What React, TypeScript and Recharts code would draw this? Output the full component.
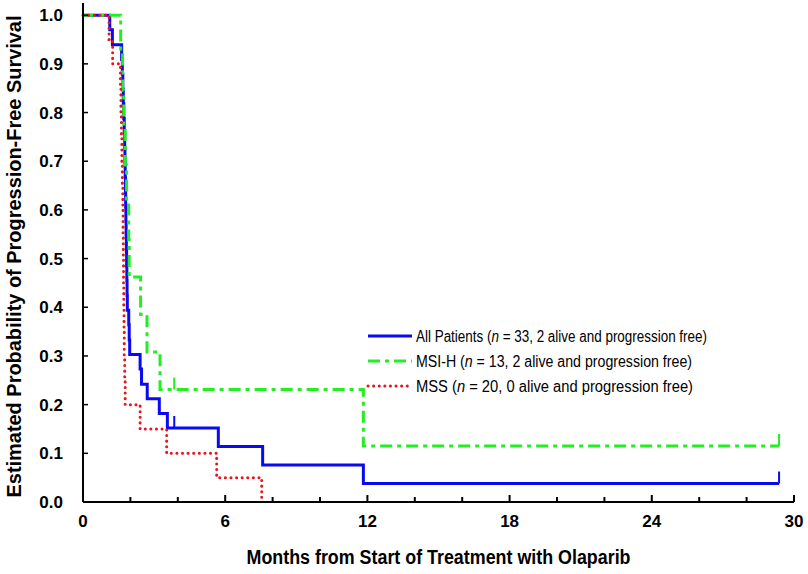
import { LineChart, Line, XAxis, YAxis, Legend } from "recharts"

// Kaplan-Meier steps (months, survival)
const allTimes = [0, 1.13, 1.24, 1.63, 1.66, 1.68, 1.7, 1.72, 1.74, 1.76, 1.77, 1.78, 1.79, 1.8, 1.81, 1.82, 1.83, 1.84, 1.85, 1.86, 1.87, 1.93, 1.95, 1.97, 2.41, 2.47, 2.71, 3.22, 3.56, 5.71, 7.58, 11.83]
const allSurv = [1, 0.97, 0.939, 0.909, 0.879, 0.848, 0.818, 0.788, 0.758, 0.727, 0.697, 0.667, 0.636, 0.606, 0.576, 0.545, 0.515, 0.485, 0.455, 0.424, 0.394, 0.364, 0.333, 0.303, 0.273, 0.242, 0.212, 0.182, 0.152, 0.114, 0.076, 0.038]
const allCensored = [3.85, 29.37]

const msiTimes = [0, 1.59, 1.67, 1.72, 1.78, 1.84, 1.93, 1.95, 2.43, 2.7, 3.25, 11.83]
const msiSurv = [1, 0.923, 0.846, 0.769, 0.692, 0.615, 0.538, 0.462, 0.385, 0.308, 0.231, 0.115]
const msiCensored = [3.85, 29.37]

const mssTimes = [0, 1.1, 1.25, 1.58, 1.6, 1.62, 1.64, 1.66, 1.68, 1.69, 1.7, 1.71, 1.72, 1.73, 1.74, 1.76, 1.78, 2.41, 3.53, 5.64, 7.54]
const mssSurv = [1, 0.95, 0.9, 0.85, 0.8, 0.75, 0.7, 0.65, 0.6, 0.55, 0.5, 0.45, 0.4, 0.35, 0.3, 0.25, 0.2, 0.15, 0.1, 0.05, 0]
const mssCensored: number[] = []

const xTicks = [0, 2, 4, 6, 8, 10, 12, 14, 16, 18, 20, 22, 24, 26, 28, 30]
const yTicks = [0, 0.1, 0.2, 0.3, 0.4, 0.5, 0.6, 0.7, 0.8, 0.9, 1.0]

const FONT = "'Liberation Sans', Arial, sans-serif"
const BLUE = "#0a0af0"
const GREEN = "#22ee22"
const RED = "#e8141c"

function buildSeries(times: number[], surv: number[], censored: number[]) {
  const pts = times.map((t, i) => ({ t, v: surv[i], c: false }))
  censored.forEach((ct) => {
    let v = surv[0]
    times.forEach((t, i) => {
      if (t <= ct) v = surv[i]
    })
    pts.push({ t: ct, v, c: true })
  })
  return pts.sort((a, b) => a.t - b.t)
}

const allData = buildSeries(allTimes, allSurv, allCensored)
const msiData = buildSeries(msiTimes, msiSurv, msiCensored)
const mssData = buildSeries(mssTimes, mssSurv, mssCensored)

const censorDot = (color: string) => (props: any) => {
  const { cx, cy, payload, index } = props
  if (!payload || !payload.c) return <g key={"d" + index} />
  return <line key={"d" + index} x1={cx} x2={cx} y1={cy} y2={cy - 12} stroke={color} strokeWidth={2} />
}

function XTick(props: any) {
  const { x, y, payload } = props
  const major = payload.value % 6 === 0
  return (
    <g>
      <line x1={x} x2={x} y1={y} y2={y - (major ? 7 : 5)} stroke="#000" strokeWidth={2} />
      {major && (
        <text x={x} y={y + 25} textAnchor="middle" fontSize={17} fontWeight="bold" fontFamily={FONT} fill="#000">
          {payload.value}
        </text>
      )}
    </g>
  )
}

function YTick(props: any) {
  const { x, y, payload } = props
  return (
    <g>
      <line x1={x} x2={x + 5} y1={y} y2={y} stroke="#000" strokeWidth={1.5} />
      <text x={x - 20} y={y + 6} textAnchor="end" fontSize={17} fontWeight="bold" fontFamily={FONT} fill="#000">
        {payload.value.toFixed(1)}
      </text>
    </g>
  )
}

function LegendBox() {
  const rows = [
    { color: BLUE, dash: undefined, cap: "butt", label: "All Patients (", rest: " = 33, 2 alive and progression free)", len: 291 },
    { color: GREEN, dash: "12 5 4 5", cap: "butt", label: "MSI-H (", rest: " = 13, 2 alive and progression free)", len: 276 },
    { color: RED, dash: "0.1 5.5", cap: "round", label: "MSS (", rest: " = 20, 0 alive and progression free)", len: 277 },
  ]
  return (
    <svg width={420} height={75} style={{ display: "block" }}>
      {rows.map((r, i) => (
        <g key={i}>
          <line x1={2} x2={46} y1={12 + i * 25} y2={12 + i * 25} stroke={r.color} strokeWidth={3} strokeDasharray={r.dash} strokeLinecap={r.cap as any} />
          <text x={50} y={17.5 + i * 25} fontSize={16} fontFamily={FONT} fill="#000" textLength={r.len} lengthAdjust="spacingAndGlyphs">
            {r.label}
            <tspan fontStyle="italic">n</tspan>
            {r.rest}
          </text>
        </g>
      ))}
    </svg>
  )
}

export default function App() {
  return (
    <div style={{ position: "absolute", left: 0, top: 0, background: "#fff" }}>
      <LineChart width={808} height={574} margin={{ top: 3, right: 14, bottom: 0, left: 0 }}>
        <XAxis
          type="number"
          dataKey="t"
          domain={[0, 30]}
          ticks={xTicks}
          interval={0}
          height={72}
          tickSize={0}
          tickMargin={0}
          tickLine={false}
          axisLine={{ stroke: "#000", strokeWidth: 2 }}
          tick={<XTick />}
          label={{
            content: (p: any) => {
              const vb = p.viewBox
              return (
                <text x={vb.x + vb.width / 2} y={vb.y + 62} textAnchor="middle" fontSize={20} fontWeight="bold" fontFamily={FONT} fill="#000" textLength={384} lengthAdjust="spacingAndGlyphs">
                  Months from Start of Treatment with Olaparib
                </text>
              )
            },
          }}
        />
        <YAxis
          type="number"
          domain={[0, 1.025]}
          ticks={yTicks}
          interval={0}
          width={83}
          tickSize={0}
          tickMargin={0}
          tickLine={false}
          axisLine={{ stroke: "#000", strokeWidth: 2 }}
          tick={<YTick />}
          label={{
            content: (p: any) => {
              const vb = p.viewBox
              const cx = vb.x + 14
              const cy = vb.y + vb.height / 2 + 4
              return (
                <text x={cx} y={cy} transform={`rotate(-90 ${cx} ${cy})`} textAnchor="middle" dominantBaseline="central" fontSize={20} fontWeight="bold" fontFamily={FONT} fill="#000" textLength={482} lengthAdjust="spacingAndGlyphs">
                  Estimated Probability of Progression-Free Survival
                </text>
              )
            },
          }}
        />
        <Legend
          layout="horizontal"
          verticalAlign="middle"
          align="center"
          content={() => <LegendBox />}
          wrapperStyle={{ position: "absolute", left: 366, top: 324, width: 420, height: 75 }}
        />
        <Line data={allData} dataKey="v" name="All Patients" type="stepAfter" stroke={BLUE} strokeWidth={3} dot={censorDot(BLUE)} activeDot={false} isAnimationActive={false} />
        <Line data={msiData} dataKey="v" name="MSI-H" type="stepAfter" stroke={GREEN} strokeWidth={3} strokeDasharray="12 5 4 5" dot={censorDot(GREEN)} activeDot={false} isAnimationActive={false} />
        <Line data={mssData} dataKey="v" name="MSS" type="stepAfter" stroke={RED} strokeWidth={3} strokeDasharray="0.1 5.5" strokeLinecap="round" dot={false} activeDot={false} isAnimationActive={false} />
      </LineChart>
    </div>
  )
}
